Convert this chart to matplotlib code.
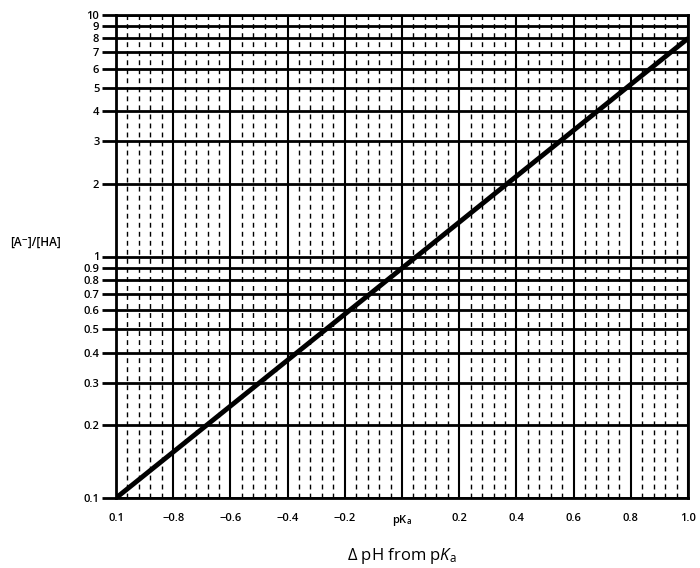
import numpy as np
import matplotlib
matplotlib.use("Agg")
import matplotlib.pyplot as plt
from matplotlib.ticker import MultipleLocator, NullLocator

# figure settings
plt.rcParams['font.family'] = ['Open Sans', 'DejaVu Sans']
plt.rcParams['mathtext.fontset'] = 'custom'
plt.rcParams['mathtext.rm'] = 'Open Sans'
plt.rcParams['mathtext.it'] = 'Open Sans:italic'

# data
dph = [-1.0, 1.0]
ratio = [0.1, 8.0]

xtick_vals = [-1.0, -0.8, -0.6, -0.4, -0.2, 0.0, 0.2, 0.4, 0.6, 0.8, 1.0]
xtick_labels = ['0.1', '\u22120.8', '\u22120.6', '\u22120.4', '\u22120.2',
                'pK$_\\mathregular{a}$', '0.2', '0.4', '0.6', '0.8', '1.0']
ytick_vals = [0.1, 0.2, 0.3, 0.4, 0.5, 0.6, 0.7, 0.8, 0.9,
              1, 2, 3, 4, 5, 6, 7, 8, 9, 10]
ytick_labels = ['0.1', '0.2', '0.3', '0.4', '0.5', '0.6', '0.7', '0.8', '0.9',
                '1', '2', '3', '4', '5', '6', '7', '8', '9', '10']

fig = plt.figure(figsize=(7.0, 5.68), dpi=100)
ax = fig.add_axes([116/700, 1 - 498/568, (688 - 116)/700, (498 - 15)/568])

ax.set_yscale('log')
ax.set_xlim(-1.0, 1.0)
ax.set_ylim(0.1, 10)

# grid
ax.set_xticks(xtick_vals)
ax.set_xticklabels(xtick_labels)
ax.xaxis.set_minor_locator(MultipleLocator(0.04))
ax.set_yticks(ytick_vals)
ax.set_yticklabels(ytick_labels)
ax.yaxis.set_minor_locator(NullLocator())

ax.grid(which='major', axis='x', color='black', linewidth=1.5, linestyle='-')
ax.grid(which='minor', axis='x', color='black', linewidth=1.0,
        linestyle=(0, (3.5, 3)))
ax.grid(which='major', axis='y', color='black', linewidth=2.0, linestyle='-')

ax.tick_params(axis='x', which='both', length=0, pad=11, labelsize=8)
ax.tick_params(axis='y', which='major', length=10, width=2.0, pad=2,
               labelsize=8, direction='out')
for lab in ax.get_xticklabels() + ax.get_yticklabels():
    lab.set_fontweight('semibold')

for s in ax.spines.values():
    s.set_linewidth(2.0)

# the line
ax.plot(dph, ratio, color='black', linewidth=3.5, solid_capstyle='butt',
        zorder=5)

ax.set_xlabel('\u0394 pH from p$K_\\mathregular{a}$', fontsize=12, labelpad=13)
fig.text(10/700, 1 - 242/568, '[A\u207b]/[HA]', fontsize=8.5,
         fontweight='semibold', ha='left', va='center')

plt.savefig('out.png', dpi=100)
